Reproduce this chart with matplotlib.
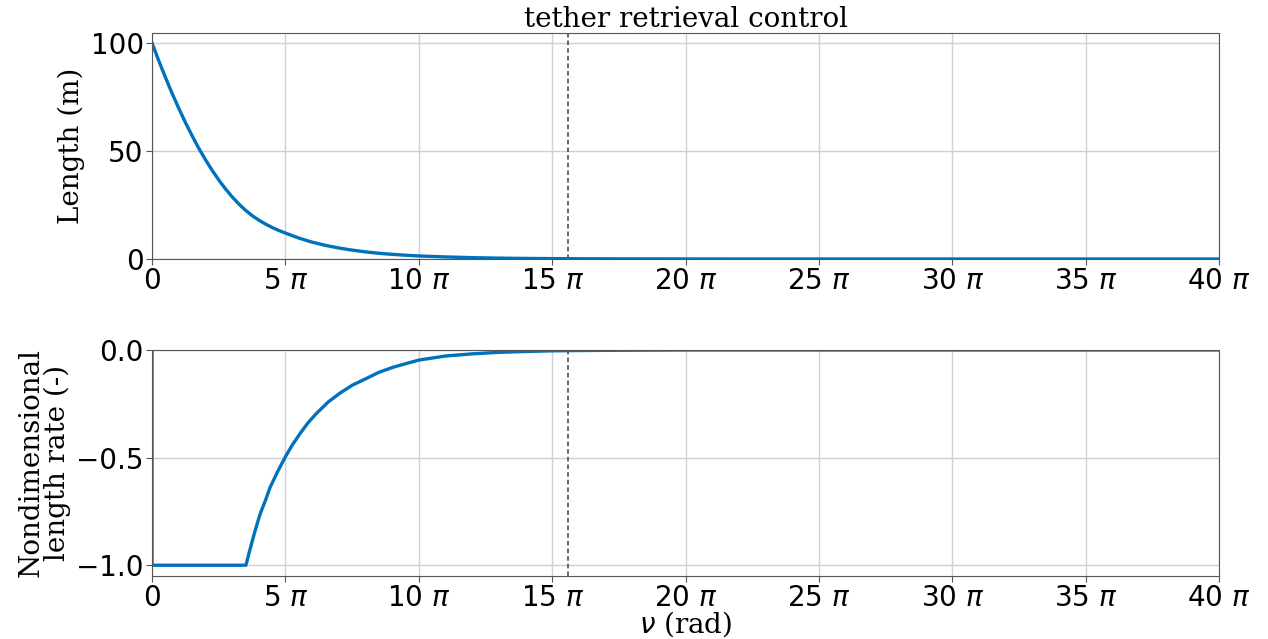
import numpy as np
import matplotlib.pyplot as plt
from matplotlib.ticker import FuncFormatter, MultipleLocator

# true anomaly samples (in units of pi) and tether length (m)
nu_len = [0, 0.25, 0.5, 0.75, 1.0, 1.25, 1.5, 1.75, 2.0, 2.25, 2.5, 2.75, 3.0,
          3.25, 3.5, 3.75, 4.0, 4.25, 4.5, 4.75, 5.0, 5.5, 6.0, 6.5, 7.0, 7.5,
          8.0, 8.5, 9.0, 9.5, 10.0, 11.0, 12.0, 13.0, 14.0, 15.0, 16.5, 18.0,
          20.0, 23.0, 30.0, 40.0]
length = [100, 91.8, 84.1, 76.7, 69.8, 63.2, 57.1, 51.3, 46.0, 41.1, 36.6, 32.5,
          28.8, 25.5, 22.6, 20.1, 18.0, 16.2, 14.6, 13.2, 12.0, 9.7, 7.8, 6.3,
          5.1, 4.1, 3.3, 2.65, 2.15, 1.75, 1.4, 0.95, 0.62, 0.4, 0.26, 0.17,
          0.09, 0.05, 0.02, 0.005, 0.0, 0.0]

# nondimensional length rate
nu_rate = [0, 0.0, 3.52, 3.65, 3.80, 3.92, 4.05, 4.25, 4.42, 4.7, 5.0, 5.25, 5.55,
           5.85, 6.17, 6.6, 7.04, 7.5, 8.04, 8.5, 9.04, 9.5, 10.0, 11.0, 12.0,
           13.0, 14.0, 15.0, 16.5, 18.0, 20.0, 40.0]
rate = [0.0, -1.0, -1.0, -0.937, -0.868, -0.816, -0.763, -0.699, -0.640, -0.567,
        -0.496, -0.443, -0.388, -0.338, -0.294, -0.242, -0.201, -0.164, -0.132,
        -0.104, -0.080, -0.064, -0.047, -0.028, -0.018, -0.011, -0.007, -0.004,
        -0.002, -0.001, 0.0, 0.0]

nu_switch = 15.6  # end of retrieval phase (units of pi)

plt.rcParams['font.family'] = 'DejaVu Serif'
plt.rcParams['mathtext.fontset'] = 'dejavusans'

blue = '#0072BD'
fs = 20
fig = plt.figure(figsize=(12.68, 6.39), dpi=100)
ax1 = fig.add_axes([0.1199, 0.5947, 0.8415, 0.3537])
ax2 = fig.add_axes([0.1199, 0.0986, 0.8415, 0.3537])


def pi_label(x, pos):
    n = int(round(x / np.pi))
    return '0' if n == 0 else f'{n} $\\pi$'


for ax in (ax1, ax2):
    ax.set_xlim(0, 40 * np.pi)
    ax.xaxis.set_major_locator(MultipleLocator(5 * np.pi))
    ax.xaxis.set_major_formatter(FuncFormatter(pi_label))
    ax.grid(True, color='#d0d0d0', linewidth=1)
    ax.axvline(nu_switch * np.pi, color='#404040', linestyle='--', linewidth=1.1,
               dashes=(3, 2))
    ax.tick_params(labelsize=fs, length=4, color='#555555', pad=2)
    for sp in ax.spines.values():
        sp.set_color('#555555')

ax1.plot(np.array(nu_len) * np.pi, length, color=blue, linewidth=2.4)
ax1.set_ylim(0, 104.6)
ax1.set_yticks([0, 50, 100])
ax1.set_ylabel('Length (m)', fontsize=fs)
ax1.set_title('tether retrieval control', fontsize=fs, pad=3)

ax2.plot(np.array(nu_rate) * np.pi, rate, color=blue, linewidth=2.4)
ax2.set_ylim(-1.05, 0)
ax2.set_yticks([-1.0, -0.5, 0.0])
ax2.set_ylabel('Nondimensional\nlength rate (-)', fontsize=fs, linespacing=0.95)
ax2.set_xlabel('$\\nu$ (rad)', fontsize=fs, labelpad=-2)

for ax in (ax1, ax2):
    for lab in ax.get_xticklabels() + ax.get_yticklabels():
        lab.set_family('DejaVu Sans')

fig.savefig('out.png', dpi=100)
